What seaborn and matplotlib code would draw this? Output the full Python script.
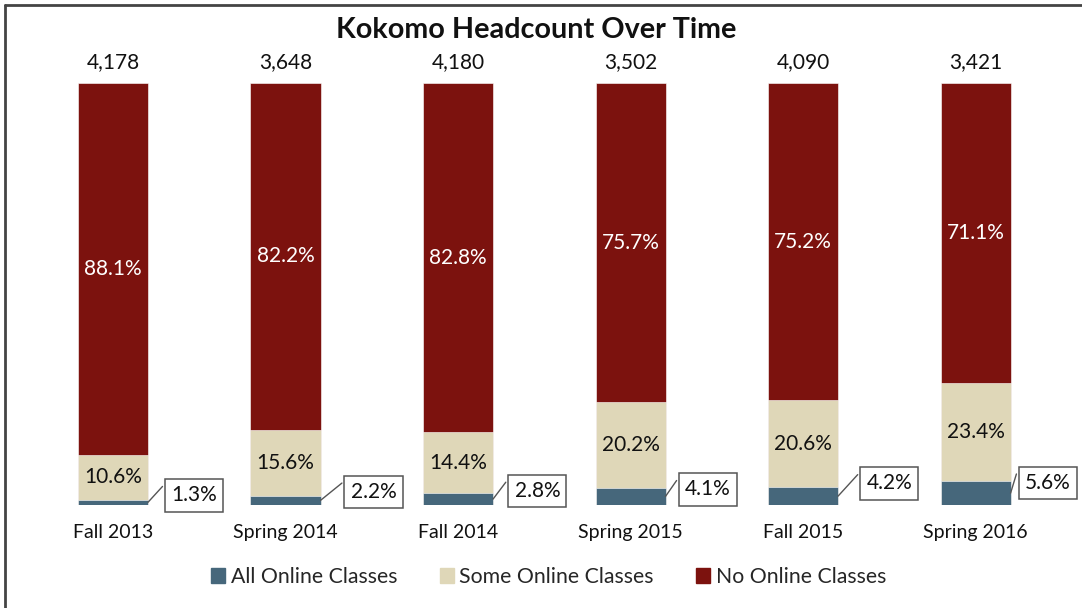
import matplotlib
matplotlib.use("Agg")
import matplotlib.pyplot as plt
from matplotlib.lines import Line2D
from matplotlib.patches import Patch
import seaborn as sns
import numpy as np

# ---- data ----
categories = ["Fall 2013", "Spring 2014", "Fall 2014", "Spring 2015", "Fall 2015", "Spring 2016"]
all_online = [1.3, 2.2, 2.8, 4.1, 4.2, 5.6]
some_online = [10.6, 15.6, 14.4, 20.2, 20.6, 23.4]
no_online = [88.1, 82.2, 82.8, 75.7, 75.2, 71.1]
headcount = [4178, 3648, 4180, 3502, 4090, 3421]

# ---- layout of callout boxes (x offset from bar centre, y in axis units) ----
callout_dx = [0.47, 0.51, 0.46, 0.45, 0.50, 0.42]
callout_y = [2.3, 3.1, 3.3, 3.7, 5.1, 5.25]
leader_end_dx = -0.183   # leader end relative to box centre (x, axis units)
leader_end_dy = 2.1      # leader end relative to box centre (y, axis units)

C_ALL = "#46677B"
C_SOME = "#DFD7B8"
C_NONE = "#7C120E"

sns.set_theme(style="white")
plt.rcParams["font.family"] = ["Lato", "DejaVu Sans"]

fig = plt.figure(figsize=(10.82, 6.08), dpi=100)
ax = fig.add_axes([0.02472, 0.1694, 0.9566, 0.6941])

w = 0.406
lvl_some = np.array(all_online) + np.array(some_online)
lvl_none = lvl_some + np.array(no_online)

sns.barplot(x=categories, y=lvl_none, color=C_NONE, saturation=1, width=w, ax=ax,
            edgecolor="white", linewidth=0.4)
sns.barplot(x=categories, y=lvl_some, color=C_SOME, saturation=1, width=w, ax=ax,
            edgecolor="white", linewidth=0.4)
sns.barplot(x=categories, y=all_online, color=C_ALL, saturation=1, width=w, ax=ax,
            edgecolor="white", linewidth=0.4)

ax.set_xlim(-0.5, 5.5)
ax.set_ylim(0, 100)
ax.set_yticks([])
ax.set_ylabel("")
ax.set_xlabel("")
for s in ax.spines.values():
    s.set_visible(False)
ax.tick_params(axis="x", length=0, pad=14, labelsize=14, labelcolor="#111111")

fs = 15
for i in range(len(categories)):
    ax.text(i, lvl_some[i] + no_online[i] / 2, f"{no_online[i]:.1f}%", ha="center", va="center",
            color="white", fontsize=fs)
    ax.text(i, all_online[i] + some_online[i] / 2, f"{some_online[i]:.1f}%", ha="center", va="center",
            color="#111111", fontsize=fs)
    ax.text(i, 105, f"{headcount[i]:,}", ha="center", va="center", color="#111111", fontsize=fs,
            clip_on=False)
    bx, by = i + callout_dx[i], callout_y[i]
    ax.text(bx, by, f"{all_online[i]:.1f}%", ha="center", va="center", fontsize=fs,
            color="#111111", zorder=5, clip_on=False,
            bbox=dict(boxstyle="square,pad=0.3", fc="white", ec="#555555", lw=1.1))
    ax.plot([i + w / 2, bx + leader_end_dx], [all_online[i] / 2, by + leader_end_dy],
            color="#555555", lw=1.0, clip_on=False, zorder=4)

fig.text(0.496, 1 - 30 / 608, "Kokomo Headcount Over Time", ha="center", va="center",
         fontsize=20.7, fontweight="bold", color="#111111")

handles = [Patch(color=C_ALL), Patch(color=C_SOME), Patch(color=C_NONE)]
fig.legend(handles, ["All Online Classes", "Some Online Classes", "No Online Classes"],
           loc="center", bbox_to_anchor=(0.507, 1 - 577 / 608), ncol=3, frameon=False,
           fontsize=15.3, handlelength=0.67, handleheight=0.67, handletextpad=0.25,
           columnspacing=2.0)

# outer frame (top and left visible)
fig.add_artist(Line2D([5 / 1082, 1.0], [1 - 5 / 608, 1 - 5 / 608], color="#444444", lw=2,
                      transform=fig.transFigure))
fig.add_artist(Line2D([5 / 1082, 5 / 1082], [0, 1 - 5 / 608], color="#444444", lw=2,
                      transform=fig.transFigure))

fig.savefig("out.png", dpi=100)
